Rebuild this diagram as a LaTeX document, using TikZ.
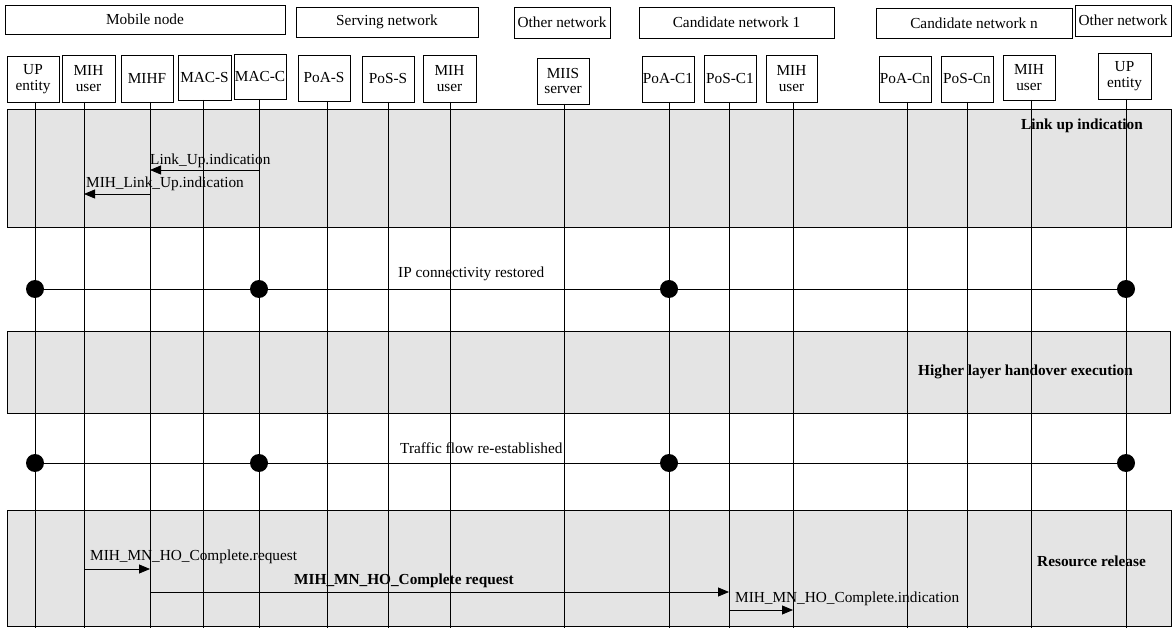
\documentclass[tikz,border=0pt]{standalone}
\usepackage{fontspec}
\setmainfont{Liberation Serif}
\usetikzlibrary{arrows.meta}
\definecolor{bandgray}{RGB}{228,228,228}

% entity box with its lifeline: name, x1, x2, y1, y2, lifeline x, label
\newcommand\mkentity[7]{%
  \node[entity, minimum width={#3-#2}, minimum height={#5-#4}]
    (#1) at ({(#2+#3)/2},{(#4+#5)/2}) {#7};
  \coordinate (#1-l) at (#6,#5);
  \draw[lifeline] (#1-l) -- (#1-l |- bottom);
}

\begin{document}
\begin{tikzpicture}[x=1pt,y=-1pt,
  every node/.style={font=\fontsize{15.3}{15.5}\selectfont},
  group/.style={draw, line width=0.8pt, inner sep=0pt},
  entity/.style={draw, line width=0.8pt, inner sep=0pt, align=center},
  band/.style={draw, line width=0.8pt, fill=bandgray},
  lifeline/.style={line width=0.8pt},
  msg/.style={line width=0.8pt, -{Triangle[length=11pt,width=9pt]}},
  event/.style={line width=0.8pt},
  dot/.style={circle, fill=black, inner sep=0pt, minimum size=18pt},
  lbl/.style={anchor=base west, inner sep=0pt},
  phase/.style={anchor=base west, inner sep=0pt,
    font=\fontsize{15.3}{15.5}\selectfont\bfseries},
]
\useasboundingbox (0,0) rectangle (1173,628);
\coordinate (bottom) at (0,628);

% network groups
\node[group, minimum width=280pt, minimum height=29pt] (gmn)  at (145,19.5)   {Mobile node};
\node[group, minimum width=182pt, minimum height=30pt] (gsn)  at (387,22)     {Serving network};
\node[group, minimum width=96pt,  minimum height=31pt] (gon1) at (562,22.5)   {Other network};
\node[group, minimum width=195pt, minimum height=31pt] (gcn1) at (736.5,22.5) {Candidate network 1};
\node[group, minimum width=196pt, minimum height=30pt] (gcnn) at (974,23)     {Candidate network n};
\node[group, minimum width=96pt,  minimum height=31pt] (gon2) at (1123,20.5)  {Other network};

% phase bands
\draw[band] (7,109) rectangle (1171,227);
\draw[band] (7,331) rectangle (1170,413);
\draw[band] (7,510) rectangle (1171,626);

% entities and lifelines
\mkentity{up1}{7}{59}{56}{102}{35}{UP\\entity}
\mkentity{mihu1}{62}{115}{55}{102}{84}{MIH\\user}
\mkentity{mihf}{121}{173}{55}{102}{150}{MIHF}
\mkentity{macs}{178}{231}{55}{100}{203}{MAC-S}
\mkentity{macc}{234}{286}{54}{99}{259}{MAC-C}
\mkentity{poas}{298}{350}{55}{101}{327}{PoA-S}
\mkentity{poss}{362}{414}{56}{102}{388}{PoS-S}
\mkentity{mihus}{423}{476}{55}{102}{450}{MIH\\user}
\mkentity{miis}{537}{589}{58}{104}{564}{MIIS\\server}
\mkentity{poac1}{642}{694}{56}{102}{669}{PoA-C1}
\mkentity{posc1}{704}{756}{55}{102}{729}{PoS-C1}
\mkentity{mihuc1}{766}{817}{55}{102}{793}{MIH\\user}
\mkentity{poacn}{879}{931}{56}{102}{907}{PoA-Cn}
\mkentity{poscn}{941}{993}{56}{102}{967}{PoS-Cn}
\mkentity{mihucn}{1003}{1055}{55}{100}{1031}{MIH\\user}
\mkentity{up2}{1098}{1151}{53}{99}{1126}{UP\\entity}

% message rows
\coordinate (r1) at (0,170);
\coordinate (r2) at (0,194);
\coordinate (ev1) at (0,289);
\coordinate (ev2) at (0,463);
\coordinate (r3) at (0,569);
\coordinate (r4) at (0,592);
\coordinate (r5) at (0,610);

% link up indication
\node[phase] (p1) at (1021,130) {Link up indication};
\draw[msg] (macc-l |- r1) -- (mihf-l |- r1);
\node[lbl] (m1) at (150,165) {Link\_Up.indication};
\draw[msg] (mihf-l |- r2) -- (mihu1-l |- r2);
\node[lbl] (m2) at (86,188) {MIH\_Link\_Up.indication};

% IP connectivity restored
\draw[event] (up1-l |- ev1) -- (up2-l |- ev1);
\node[lbl] (e1) at (398,278) {IP connectivity restored};
\node[dot] (d11) at (up1-l |- ev1) {};
\node[dot] (d12) at (macc-l |- ev1) {};
\node[dot] (d13) at (poac1-l |- ev1) {};
\node[dot] (d14) at (up2-l |- ev1) {};

% higher layer handover
\node[phase] (p2) at (918,376) {Higher layer handover execution};

% traffic flow re-established
\draw[event] (up1-l |- ev2) -- (up2-l |- ev2);
\node[lbl] (e2) at (400,453) {Traffic flow re-established};
\node[dot] (d21) at (up1-l |- ev2) {};
\node[dot] (d22) at (macc-l |- ev2) {};
\node[dot] (d23) at (poac1-l |- ev2) {};
\node[dot] (d24) at (up2-l |- ev2) {};

% resource release
\node[phase] (p3) at (1037,566) {Resource release};
\draw[msg] (mihu1-l |- r3) -- (mihf-l |- r3);
\node[lbl] (m3) at (90,560) {MIH\_MN\_HO\_Complete.request};
\draw[msg] (mihf-l |- r4) -- (posc1-l |- r4);
\node[phase] (m4) at (294,584) {MIH\_MN\_HO\_Complete request};
\draw[msg] (posc1-l |- r5) -- (mihuc1-l |- r5);
\node[lbl] (m5) at (735,602) {MIH\_MN\_HO\_Complete.indication};
\end{tikzpicture}
\end{document}
